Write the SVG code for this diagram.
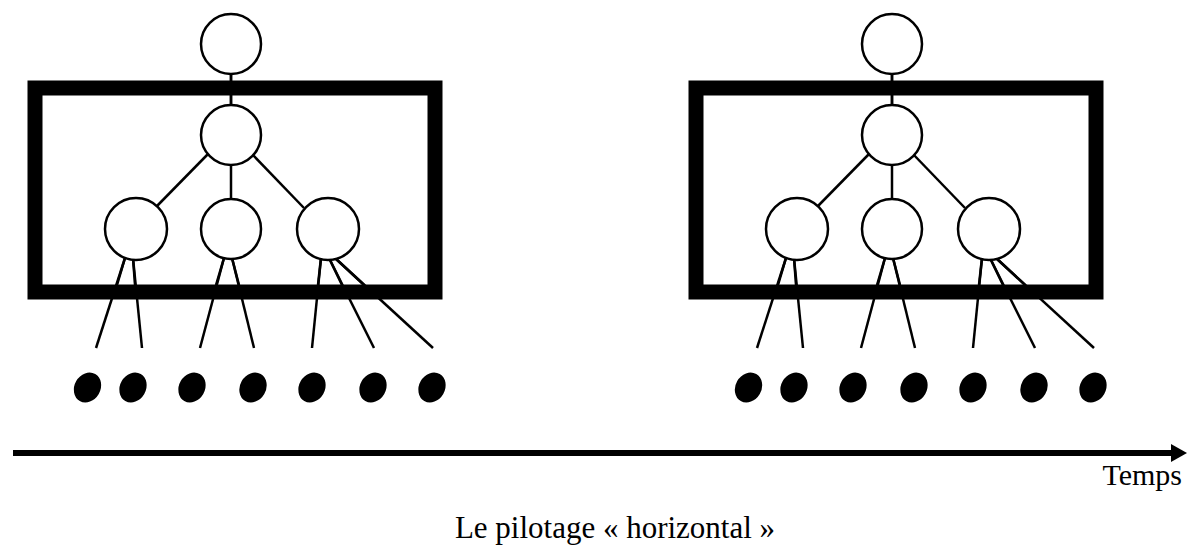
<svg xmlns="http://www.w3.org/2000/svg" width="1187" height="545" viewBox="0 0 1187 545">
<defs>
<style>
.n{fill:#fff;stroke:#000;stroke-width:2.5}
.f{fill:none;stroke:#000;stroke-width:15}
.c line{stroke:#000;stroke-width:2.5}
.leaf{fill:#000}
.t{font-family:"Liberation Serif","Times New Roman",serif;fill:#000}
</style>
<ellipse id="lf" class="leaf" cx="0" cy="0" rx="15.5" ry="13" transform="rotate(-60)"/>
<g id="tree">
<g id="connectors" class="c">
<line x1="231" y1="71" x2="231" y2="104"/>
<line x1="208" y1="154" x2="157" y2="206"/>
<line x1="231" y1="162" x2="231" y2="198"/>
<line x1="251" y1="153" x2="304" y2="208"/>
<line x1="125" y1="258" x2="96" y2="348"/>
<line x1="133" y1="258" x2="142" y2="348"/>
<line x1="224" y1="258" x2="200" y2="348"/>
<line x1="232" y1="258" x2="254" y2="348"/>
<line x1="321" y1="258" x2="312" y2="348"/>
<line x1="329" y1="258" x2="374" y2="348"/>
<line x1="335" y1="258" x2="433" y2="348"/>
</g>
<rect class="f" x="35" y="88" width="400" height="204"/>
<g class="c">
<line x1="231" y1="71" x2="231" y2="104"/>
<line x1="125" y1="258" x2="117" y2="285"/>
<line x1="133" y1="258" x2="135" y2="285"/>
<line x1="224" y1="258" x2="216" y2="285"/>
<line x1="232" y1="258" x2="239" y2="285"/>
<line x1="321" y1="258" x2="318" y2="285"/>
<line x1="329" y1="258" x2="342" y2="285"/>
<line x1="335" y1="258" x2="364" y2="285"/>
</g>
<g id="top"><circle class="n" cx="231" cy="44" r="30"/></g>
<g id="mid"><circle class="n" cx="231" cy="135" r="30"/></g>
<g id="c1"><circle class="n" cx="136" cy="229" r="31"/></g>
<g id="c2"><circle class="n" cx="231" cy="229" r="30"/></g>
<g id="c3"><circle class="n" cx="328" cy="229" r="31"/></g>
<g id="leaves">
<use href="#lf" x="87.5" y="387.5"/>
<use href="#lf" x="133" y="387.5"/>
<use href="#lf" x="192" y="387.5"/>
<use href="#lf" x="253" y="387.5"/>
<use href="#lf" x="312" y="387.5"/>
<use href="#lf" x="373" y="387.5"/>
<use href="#lf" x="432" y="387.5"/>
</g>
</g>
</defs>
<g id="left-panel"><use href="#tree"/></g>
<g id="right-panel"><use href="#tree" transform="translate(661,0)"/></g>
<g id="axis">
<line x1="13" y1="453" x2="1173" y2="453" stroke="#000" stroke-width="6"/>
<polygon points="1171,444 1187,453 1171,462" fill="#000"/>
</g>
<text class="t" x="1182" y="485" font-size="30" text-anchor="end">Temps</text>
<text class="t" x="615" y="538" font-size="31" text-anchor="middle">Le pilotage « horizontal »</text>
</svg>
